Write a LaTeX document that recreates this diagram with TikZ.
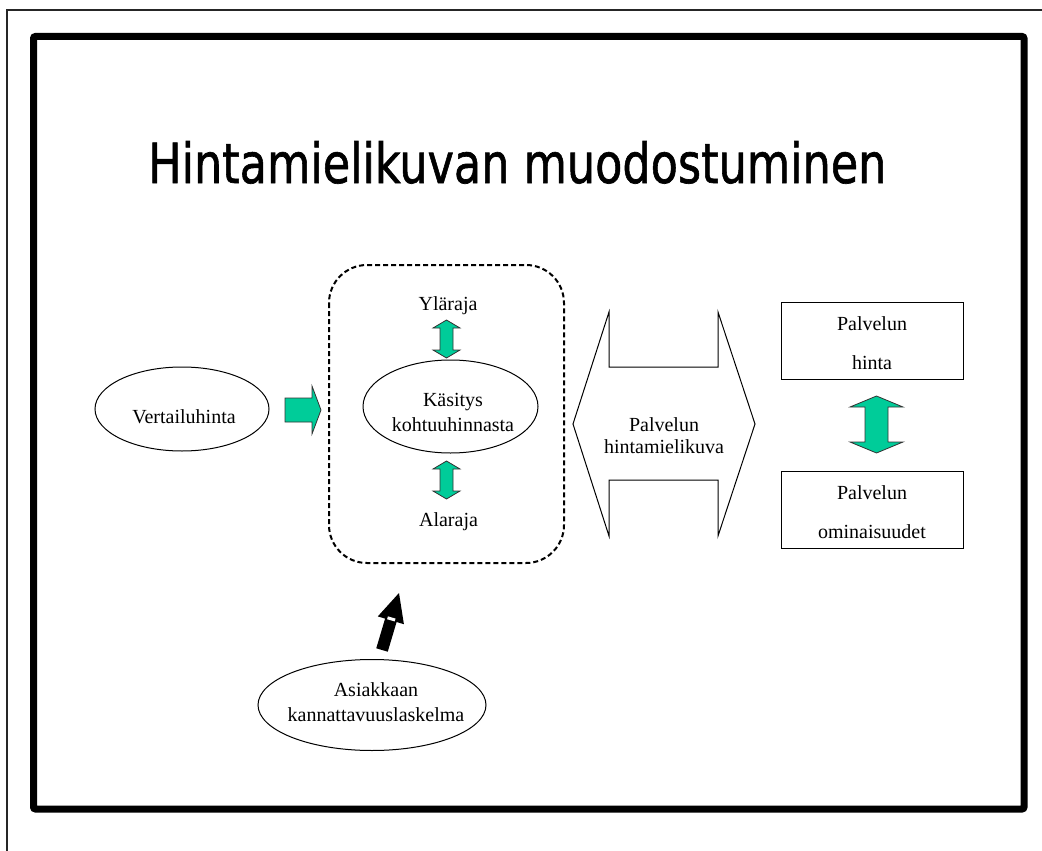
\documentclass[tikz,border=0pt]{standalone}
\usepackage{fontspec}
\setmainfont{Liberation Serif}
\newfontfamily\titlefont[FakeBold=1.2]{DejaVu Sans}
\usetikzlibrary{shapes.geometric}
\definecolor{arrowgreen}{RGB}{0,204,153}
\begin{document}
\begin{tikzpicture}[x=1pt,y=-1pt,
  txt/.style={anchor=base, inner sep=0pt, font=\fontsize{20}{24}\selectfont},
  oval/.style={ellipse, draw, line width=1pt, inner sep=0pt},
  rbox/.style={draw, line width=1pt, inner sep=0pt},
  garrow/.style={fill=arrowgreen, draw=black!80, line width=0.8pt, line join=miter},
  hollow/.style={draw, line width=1pt, line join=miter},
  dashbox/.style={draw, line width=2pt, dash pattern=on 5pt off 3pt, rounded corners=38pt},
]
\useasboundingbox (0,0) rectangle (1042,851);
% page frame
\draw[line width=1.5pt, black!85] (1042,10) -- (7,10) -- (7,851);
\draw[line width=7pt, rounded corners=2pt] (33.5,36.5) rectangle (1024,809);
% title
\node[anchor=base west, inner sep=0pt] (title) at (148,183)
  {\resizebox{738pt}{42pt}{\titlefont Hintamielikuvan muodostuminen}};
% Vertailuhinta
\node[oval, minimum width=174pt, minimum height=84pt] (vert) at (182,409) {};
\node[txt] (tvert) at (184,423) {Vertailuhinta};
% green right arrow
\draw[garrow] (285,398) -- (312,398) -- (312,386) -- (321,410) -- (312,434) -- (312,422) -- (285,422) -- cycle;
% dashed box
\draw[dashbox] (329,265) rectangle (564,563);
\node[txt] (tyla) at (448,310) {Yläraja};
\draw[garrow] (446.5,320) -- (460,328) -- (453,328) -- (453,350) -- (460,350) -- (446.5,358) -- (433,350) -- (440,350) -- (440,328) -- (433,328) -- cycle;
\node[oval, minimum width=175pt, minimum height=93pt] (kas) at (450.5,406.5) {};
\node[txt] (tkas1) at (453,406) {Käsitys};
\node[txt] (tkas2) at (453,431) {kohtuuhinnasta};
\draw[garrow] (446.5,461) -- (460,469) -- (453,469) -- (453,491) -- (460,491) -- (446.5,499) -- (433,491) -- (440,491) -- (440,469) -- (433,469) -- cycle;
\node[txt] (tala) at (448.5,526.5) {Alaraja};
% hollow double arrow
\draw[hollow] (573,424) -- (609,312) -- (609,367) -- (718,367) -- (718,312) -- (755,424) -- (718,536) -- (718,480) -- (609,480) -- (609,536) -- cycle;
\node[txt] (tpal1) at (664,431) {Palvelun};
\node[txt] (tpal2) at (664,453) {hintamielikuva};
% right boxes
\node[rbox, minimum width=182pt, minimum height=77pt] (hinta) at (872,340.5) {};
\node[txt] (th1) at (872,330) {Palvelun};
\node[txt] (th2) at (872,369) {hinta};
\draw[garrow] (876.5,396) -- (903,407) -- (888,407) -- (888,442) -- (903,442) -- (876.5,453) -- (850,442) -- (865,442) -- (865,407) -- (850,407) -- cycle;
\node[rbox, minimum width=182pt, minimum height=77pt] (omin) at (872,509.5) {};
\node[txt] (to1) at (872,499) {Palvelun};
\node[txt] (to2) at (872,538) {ominaisuudet};
% black arrow
\fill (376.25,648.3) -- (385.1,618.6) -- (377.8,616.4) -- (399,593) -- (403.9,624.2) -- (396.6,622.0) -- (387.75,651.7) -- cycle;
\draw[white, line width=3pt] (387.5,617.8) -- (395.1,620.0);
% Asiakkaan
\node[oval, minimum width=228pt, minimum height=91pt] (asi) at (372,705) {};
\node[txt] (tasi1) at (376,696) {Asiakkaan};
\node[txt] (tasi2) at (376,721.5) {kannattavuuslaskelma};
\end{tikzpicture}
\end{document}
